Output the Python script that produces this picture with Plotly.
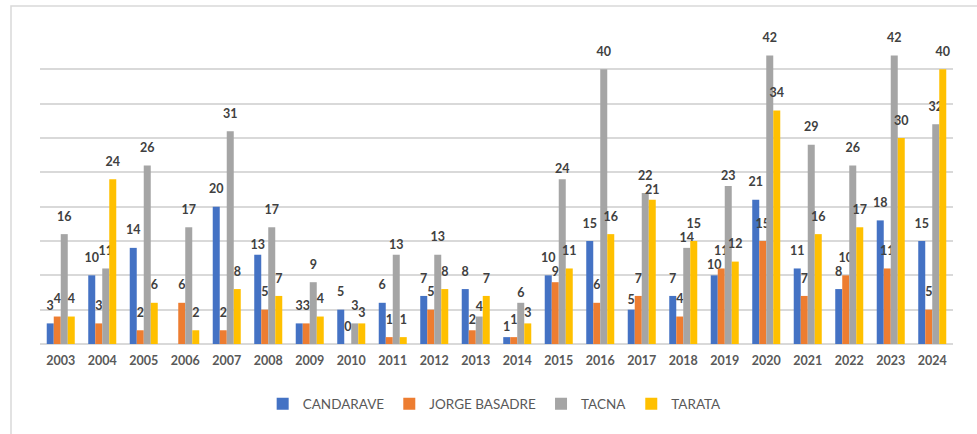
import plotly.graph_objects as go

years = [str(y) for y in range(2003, 2025)]
candarave = [3, 10, 14, None, 20, 13, 3, 5, 6, 7, 8, 1, 10, 15, 5, 7, 10, 21, 11, 8, 18, 15]
jorge_basadre = [4, 3, 2, 6, 2, 5, 3, 0, 1, 5, 2, 1, 9, 6, 7, 4, 11, 15, 7, 10, 11, 5]
tacna = [16, 11, 26, 17, 31, 17, 9, 3, 13, 13, 4, 6, 24, 40, 22, 14, 23, 42, 29, 26, 42, 32]
tarata = [4, 24, 6, 2, 8, 7, 4, 3, 1, 8, 7, 3, 11, 16, 21, 15, 12, 34, 16, 17, 30, 40]

# Years whose data label sits close to the bar top (moved down in the original to avoid overlaps)
close_labels = {
    "CANDARAVE": ["2008", "2014", "2017", "2019"],
    "JORGE BASADRE": ["2013", "2015"],
    "TACNA": ["2011", "2013", "2014", "2015", "2018", "2019"],
    "TARATA": ["2010", "2014", "2017"],
}

series = [
    ("CANDARAVE", candarave, "#4472C4"),
    ("JORGE BASADRE", jorge_basadre, "#ED7D31"),
    ("TACNA", tacna, "#A5A5A5"),
    ("TARATA", tarata, "#FFC000"),
]

FONT = "Lato, 'Open Sans', sans-serif"
FAR = "<span style='font-size:12.5px'>%{y}</span><br><span style='font-size:1px'> </span>"
NEAR = "<span style='font-size:12.5px'>%{y}</span>"

fig = go.Figure()
for name, vals, color in series:
    templates = [NEAR if yr in close_labels[name] else FAR for yr in years]
    fig.add_trace(go.Bar(
        x=years, y=vals, name=name,
        marker=dict(color=color, line=dict(width=0)),
        texttemplate=templates,
        textposition="outside",
        constraintext="none",
        cliponaxis=False,
        textfont=dict(family=FONT, size=8, color="#404040", weight="bold"),
    ))

fig.update_layout(
    width=977, height=434,
    margin=dict(l=40, r=24, t=35, b=90),
    paper_bgcolor="white", plot_bgcolor="white",
    barmode="group", bargap=0.325, bargroupgap=0,
    showlegend=True,
    legend=dict(orientation="h", x=0.498, xanchor="center", y=-0.194, yanchor="middle",
                font=dict(family=FONT, size=13.5, color="#595959"),
                itemwidth=30, traceorder="normal"),
    xaxis=dict(showgrid=False, showline=False, ticks="", zeroline=False,
               tickfont=dict(family=FONT, size=12.5, color="#595959", weight="bold"),
               ticklabelstandoff=7),
    yaxis=dict(range=[0, 45], dtick=5, showticklabels=False, showgrid=True,
               gridcolor="#D9D9D9", gridwidth=1.5, zeroline=True, zerolinecolor="#D9D9D9",
               zerolinewidth=1.5, showline=False, ticks=""),
    font=dict(family=FONT),
    shapes=[dict(type="rect", xref="paper", yref="paper",
                 x0=(11 - 40) / 913, x1=1.2, y0=-0.6, y1=1 + (35 - 6) / 309,
                 line=dict(color="#D9D9D9", width=1.5), fillcolor="rgba(0,0,0,0)", layer="below")],
)

fig.write_html("out.html", config={"displayModeBar": False},
               post_script="document.body.style.margin='0';document.body.style.overflow='hidden';")
